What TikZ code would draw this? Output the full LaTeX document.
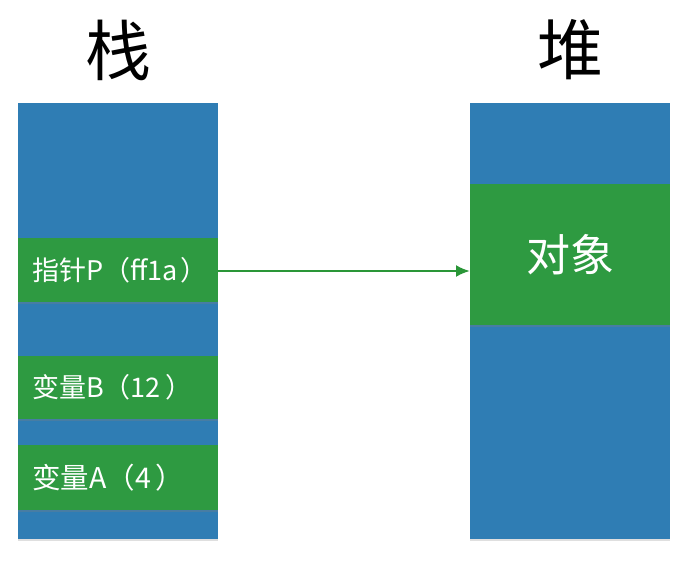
\documentclass[tikz,border=0pt]{standalone}
\usepackage{fontspec}
\setmainfont{Noto Sans CJK SC}
\usetikzlibrary{shadows,arrows.meta}
\definecolor{colblue}{HTML}{2F7DB4}
\definecolor{colgreen}{HTML}{2E9A41}
\definecolor{arrgreen}{HTML}{2A9638}
\tikzset{
  column/.style={fill=colblue, draw=none, minimum width=200pt, minimum height=436pt, inner sep=0pt,
    drop shadow={shadow xshift=0pt, shadow yshift=-2pt, opacity=0.25}},
  slot/.style={fill=colgreen, draw=none, minimum width=200pt, inner sep=0pt, text=white,
    drop shadow={shadow xshift=0pt, shadow yshift=-2pt, opacity=0.3}},
  slotlabel/.style={text width=186pt, align=left, font=\fontsize{27}{30}\selectfont},
  title/.style={font=\fontsize{66}{70}\selectfont, inner sep=0pt},
  link/.style={draw=arrgreen, line width=2.4pt, -{Latex[length=14pt,width=12pt]}}
}
\begin{document}
\begin{tikzpicture}[x=1pt,y=-1pt]
\useasboundingbox (0,0) rectangle (700,562);
\node[title] (t1) at (118,50) {栈};
\node[title] (t2) at (570,50) {堆};
\node[column, anchor=north west] (stack) at (18,103) {};
\node[column, anchor=north west] (heap) at (470,103) {};
\node[slot, slotlabel, minimum height=64pt, anchor=north west] (p) at (18,238) {\hspace*{7pt}指针P（ff1a\kern3pt）};
\node[slot, slotlabel, minimum height=63pt, anchor=north west] (b) at (18,356) {\hspace*{7pt}变量B（12\kern5pt）};
\node[slot, slotlabel, minimum height=65pt, anchor=north west, font=\fontsize{28.5}{31}\selectfont] (a) at (18,445) {\hspace*{7pt}变量A（4\kern5pt）};
\node[slot, minimum height=141pt, anchor=north west, font=\fontsize{44}{48}\selectfont] (obj) at (470,184) {对象};
\draw[link] (p.east |- 0,271) -- (obj.west |- 0,271);
\end{tikzpicture}
\end{document}
